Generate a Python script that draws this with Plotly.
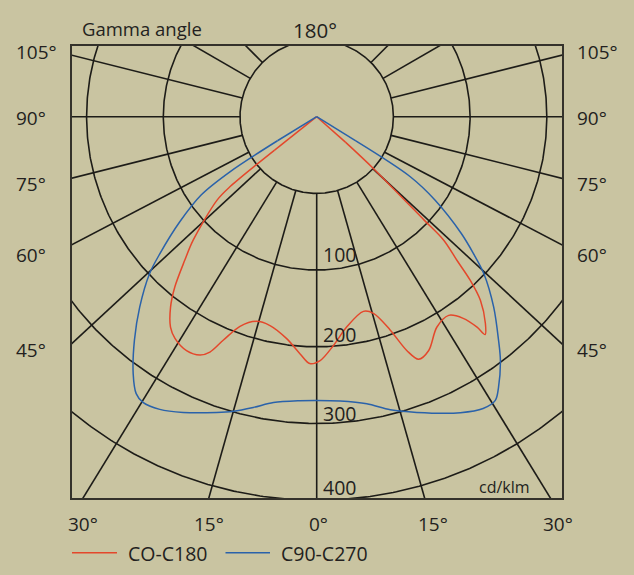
import numpy as np
import plotly.graph_objects as go

# ---------------- data ----------------
# signed gamma angle (deg from nadir): negative = left half, positive = right half
# intensity in cd/klm on the chart's scale (inner ring = 0, curve apex at centre = -100)
red_name = "CO-C180"
red_gamma = [-52.5, -51.6, -51.1, -50.1, -45.0, -42.6, -39.8, -37.5, -34.8, -32.6, -29.1,
             -26.1, -24.4, -22.7, -20.1, -16.4, -12.6, -7.7, -4.0, -1.6, 0.8,
             4.2, 8.1, 13.5, 16.1, 19.0, 21.1, 22.8, 25.6, 29.7, 33.6,
             36.0, 37.3, 37.7, 39.2, 41.7, 43.2, 44.3, 45.8, 46.1, 47.6, 48.5, 49.5]
red_cd = [-100, -30, 45, 69, 128, 154, 189, 213, 234, 243, 249,
          246, 237, 216, 191, 178, 179, 192, 210, 222, 218,
          199, 177, 161, 167, 194, 227, 243, 238, 216, 211,
          225, 245, 259, 248, 221, 192, 162, 131, 94, 0, -50, -100]

blue_name = "C90-C270"
blue_gamma = [-59.5, -58.5, -57.6, -55.9, -52.5, -48.9, -46.8, -42.9, -39.2, -35.5, -33.1,
              -31.3, -28.2, -24.3, -18.7, -15.8, -12.3, -8.6, -3.4, 0.0, 4.7,
              9.9, 14.1, 18.7, 25.9, 29.7, 32.2, 33.9, 37.0, 39.1, 42.9,
              46.8, 48.9, 51.1, 54.8, 57.3, 58.2, 59.3]
blue_cd = [-100, -40, 34, 82, 125, 171, 199, 239, 276, 312, 331,
           336, 333, 323, 307, 299, 288, 277, 271, 270, 272,
           280, 294, 307, 329, 338, 337, 325, 298, 276, 239,
           199, 171, 142, 89, 45, -40, -100]

ring_values = [0, 100, 200, 300, 400, 500]          # cd/klm
ring_labels = ["100", "200", "300", "400"]
spoke_angles = [0, 15.8, 31.5, 47.2, 62.4, 75.9, 90, 104.1, 120, 135]  # drawn grid rays
side_labels = ["105°", "90°", "75°", "60°", "45°"]
bottom_labels = ["30°", "15°", "0°", "15°", "30°"]

# ---------------- layout geometry ----------------
W, H = 634, 575
L, R, T, B = 72, 72, 46, 77
CX, CY = 316.7, 116.7
PX_PER_UNIT = 0.767
RADIAL_ZERO = -100  # value at the centre of the diagram

x_range = [(L - CX) / PX_PER_UNIT, (W - R - CX) / PX_PER_UNIT]
y_range = [-(H - B - CY) / PX_PER_UNIT, (CY - T) / PX_PER_UNIT]

BG = "rgb(201,196,161)"
INK = "#231f20"
GRID = "#1d1c18"
RED = "#e4472b"
BLUE = "#2a62aa"
FONT = "Open Sans"


def to_xy(gamma, cd):
    g = np.radians(np.asarray(gamma, float))
    r = np.asarray(cd, float) - RADIAL_ZERO
    return r * np.sin(g), -r * np.cos(g)


def paper(px, py):
    return (px - L) / (W - L - R), (H - B - py) / (H - T - B)


fig = go.Figure()

# grid rings
gx, gy = [], []
t = np.linspace(0, 2 * np.pi, 721)
for v in ring_values:
    r = v - RADIAL_ZERO
    gx += list(r * np.cos(t)) + [None]
    gy += list(r * np.sin(t)) + [None]
# grid spokes (start at the inner ring)
r0 = ring_values[0] - RADIAL_ZERO
r1 = 800
for a in spoke_angles:
    for s in ([1, -1] if a != 0 else [1]):
        g = np.radians(s * a)
        gx += [r0 * np.sin(g), r1 * np.sin(g), None]
        gy += [-r0 * np.cos(g), -r1 * np.cos(g), None]
fig.add_trace(go.Scatter(x=gx, y=gy, mode="lines",
                         line=dict(color=GRID, width=1.6),
                         hoverinfo="skip", showlegend=False))

for name, gam, cd, col in [(red_name, red_gamma, red_cd, RED),
                           (blue_name, blue_gamma, blue_cd, BLUE)]:
    x, y = to_xy(gam, cd)
    # smooth body of the curve
    fig.add_trace(go.Scatter(x=x[1:-1], y=y[1:-1], mode="lines", name=name,
                             line=dict(color=col, width=1.5, shape="spline", smoothing=0.9),
                             legendgroup=name, showlegend=False, hoverinfo="skip"))
    # straight cut-off legs meeting at the apex
    fig.add_trace(go.Scatter(x=[x[0], x[1], None, x[-2], x[-1]],
                             y=[y[0], y[1], None, y[-2], y[-1]], mode="lines",
                             line=dict(color=col, width=1.5),
                             legendgroup=name, showlegend=False, hoverinfo="skip"))

ann = []


def add_text(text, px, py, size, xanchor="center"):
    xp, yp = paper(px, py)
    ann.append(dict(text=text, x=xp, y=yp, xref="paper", yref="paper",
                    xanchor=xanchor, yanchor="middle", showarrow=False,
                    font=dict(family=FONT, size=size, color=INK)))


add_text("Gamma angle", 80, 28.5, 18.5, "left")
add_text("180°", 315, 30, 20.5)
side_y = [51.5, 118, 183.5, 255, 350]
for lab, py in zip(side_labels, side_y):
    add_text(lab, 14, py, 19, "left")
    add_text(lab, 575, py, 19, "left")
bottom_x = [83, 209, 318, 433, 558]
for lab, px in zip(bottom_labels, bottom_x):
    add_text(lab, px, 524, 19)
ring_label_y = [254.7, 334.7, 413.3, 487]
for lab, py in zip(ring_labels, ring_label_y):
    add_text(lab, 321, py, 19.5, "left")
add_text("cd/klm", 532, 487, 16, "right")

# legend
shapes = []
for (x0, x1, col, txt, tx) in [(72, 117, RED, red_name, 126),
                               (225.5, 270, BLUE, blue_name, 278.5)]:
    a0, yl = paper(x0, 552.7)
    a1, _ = paper(x1, 552.7)
    shapes.append(dict(type="line", xref="paper", yref="paper", x0=a0, x1=a1,
                       y0=yl, y1=yl, line=dict(color=col, width=1.5)))
    add_text(txt, tx, 553, 19.5, "left")

fig.update_layout(
    width=W, height=H,
    margin=dict(l=L, r=R, t=T, b=B, pad=0),
    paper_bgcolor=BG, plot_bgcolor=BG,
    annotations=ann, shapes=shapes,
    hovermode=False,
    xaxis=dict(range=x_range, showgrid=False, zeroline=False, showticklabels=False,
               ticks="", showline=True, mirror=True, linecolor="#34322b", linewidth=2,
               fixedrange=True),
    yaxis=dict(range=y_range, showgrid=False, zeroline=False, showticklabels=False,
               ticks="", showline=True, mirror=True, linecolor="#34322b", linewidth=2,
               fixedrange=True),
)

fig.write_html("out.html",
               config={"displayModeBar": False, "staticPlot": True},
               post_script="document.body.style.margin='0px';"
                           "document.body.style.background='" + BG + "';")
